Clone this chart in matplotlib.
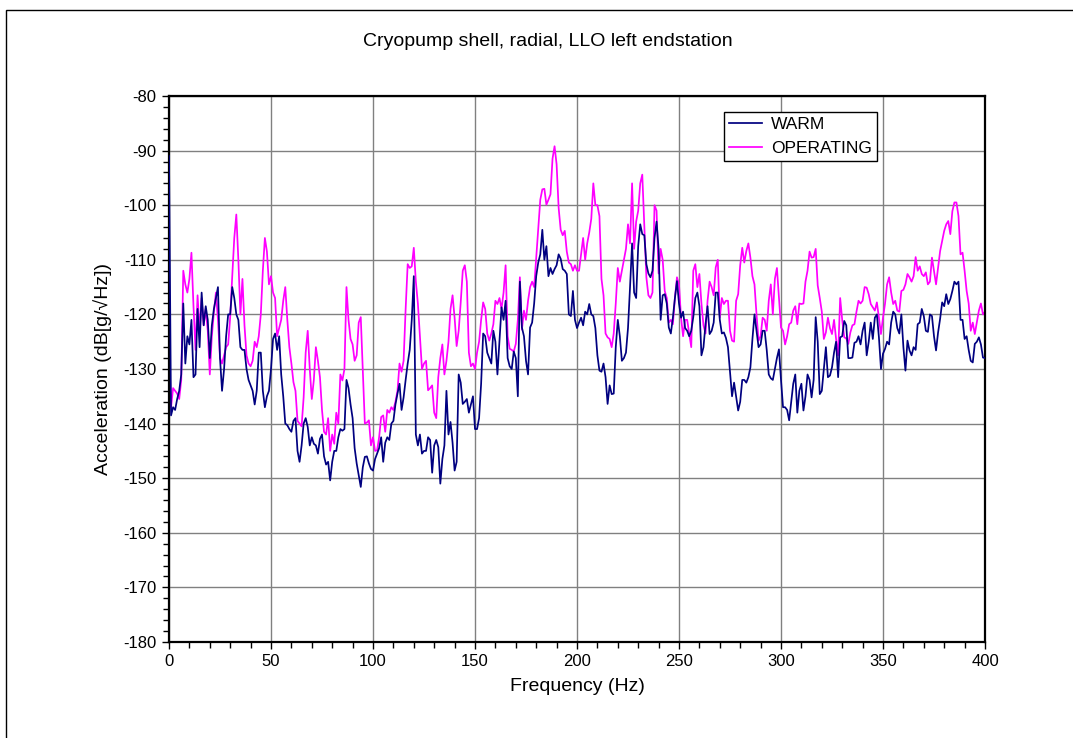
import numpy as np
import matplotlib
matplotlib.use("Agg")
import matplotlib.pyplot as plt
from matplotlib.patches import Rectangle
from matplotlib.ticker import MultipleLocator

plt.rcParams['font.family'] = ['Liberation Sans', 'DejaVu Sans']
plt.rcParams['axes.unicode_minus'] = False

# acceleration spectra, 1 Hz bins from 0 to 400 Hz, dB[g/sqrt(Hz)]
warm = [
    -91, -138.5, -137, -137.5, -135.5, -134, -131, -118, -129, -124,
    -125.5, -121, -131.5, -131, -119, -126, -116, -122, -118.5, -121,
    -128, -122, -119, -117, -115, -128, -134, -130, -124, -120,
    -120, -115, -117, -120, -121, -126, -126.5, -126.5, -130, -132,
    -133, -134, -136.5, -134, -127, -127, -134, -137, -135, -134,
    -130, -124.5, -123.5, -126.5, -124, -131, -135, -140, -140.3, -141,
    -141.5, -139.5, -139, -145, -147, -144, -140, -139, -140.6, -144,
    -142.5, -143.7, -144, -145.5, -142.8, -142, -146, -147.5, -147, -150.4,
    -147, -145, -145, -142.5, -141, -141.3, -141, -132, -133.5, -136.5,
    -139, -144.5, -147.3, -149.5, -151.6, -148, -146.1, -146, -147.3, -148.3,
    -148.6, -146.5, -145.5, -144.5, -142.5, -147, -143.5, -142.5, -143, -140,
    -139.5, -136.5, -134.5, -132.7, -137.5, -135.2, -132, -129, -126.5, -121,
    -113, -142, -144, -142, -145.5, -145, -145, -142.5, -143, -149,
    -144, -143, -144.3, -151, -146.5, -144, -134, -142, -139.7, -143.5,
    -148.6, -147, -131, -132.5, -136.4, -136, -135.5, -138, -136.5, -135,
    -141, -141, -139, -132.7, -123.5, -124, -127, -128, -129, -123,
    -125, -131, -125, -118.7, -121, -117.5, -128, -129.5, -130, -126.8,
    -128, -135, -114, -122.4, -124, -128.5, -131, -122.4, -121.5, -118,
    -113, -110.5, -109, -104.5, -110, -107.5, -113, -111.5, -112.6, -111.7,
    -111, -109, -109.8, -111.7, -112, -112.6, -120, -120.3, -115.7, -121,
    -122.5, -121.5, -120.6, -122, -119.5, -120, -118.1, -120, -120.3, -122.5,
    -127.5, -130.3, -130.5, -129, -131.5, -136.4, -133, -134.6, -134.5, -126,
    -121, -124, -128.5, -128, -127, -122.5, -115, -107, -116, -117,
    -107.5, -103.5, -105.3, -105.5, -110.8, -112.5, -113.2, -112, -106, -103,
    -108, -121, -116.5, -116.3, -118, -122.4, -123.5, -120.6, -117, -113.9,
    -118, -120.6, -119.5, -122.5, -123, -124, -123, -120.5, -117, -116,
    -118.5, -127.5, -126, -121.8, -118.5, -123.6, -123, -121.5, -116, -116,
    -121, -123.5, -123.3, -124.3, -126, -130.5, -135, -132.5, -135, -137.6,
    -136, -132, -132, -132.5, -131.5, -129.7, -124.5, -120, -123, -126,
    -125.5, -123, -123, -126.5, -131, -131.7, -132, -130, -128, -126.4,
    -132, -137, -137, -137.5, -139.4, -136, -132.7, -131, -138, -134,
    -132.7, -137.6, -135, -131, -132, -135.2, -132, -120.5, -125, -134.6,
    -134, -130, -126, -131.5, -131.2, -129.7, -127, -125, -131.5, -124.2,
    -124, -121.2, -122, -128, -128, -127.9, -125.2, -125, -124, -125.5,
    -123, -121.5, -127.5, -125, -121.5, -124.5, -120.6, -120, -124.2, -130,
    -127.2, -126.3, -125, -125.5, -121.5, -119.5, -120, -122.5, -123.5, -120,
    -126, -130.3, -124.8, -126.6, -127.5, -126, -126.5, -121.8, -121.5, -119,
    -120.3, -123, -123.2, -120, -120.3, -124, -126.6, -123.3, -120.8, -117.8,
    -118.5, -116.3, -118.1, -117.2, -115.7, -114, -114.5, -114, -121, -121,
    -124.5, -124, -126.5, -128.5, -128.8, -125.4, -125, -124.2, -125.5, -127.9,
    -128,
]

operating = [
    -126, -137, -133.5, -134, -134.5, -135.5, -132, -112, -114.5, -116,
    -113.5, -108.7, -118.5, -126.5, -116.5, -123, -117, -122, -119, -123,
    -131, -124, -119.6, -116, -121, -128, -129, -127.5, -126, -125.5,
    -120.5, -113, -106, -101.7, -110, -120, -113.5, -122, -127.5, -129,
    -129.5, -128.5, -125, -126, -124, -120, -112, -106, -108.5, -114.5,
    -113, -116, -117, -124, -122.5, -121, -117.5, -115, -121, -126,
    -129, -132.4, -134, -139.5, -140, -140.5, -135.2, -127, -123, -130,
    -135.5, -132, -126, -128.5, -131.5, -137.5, -141.5, -142, -139, -145,
    -142, -143.7, -138, -140, -131, -132.1, -130, -115, -121, -124.5,
    -125.5, -128.5, -127.5, -121.5, -120.5, -130, -140, -139.8, -139.4, -144,
    -142.5, -145, -144.9, -142.5, -138.8, -138.5, -141.5, -137.5, -138, -137,
    -137.5, -136, -134, -129, -130.5, -128.5, -119, -110.8, -111.5, -111.2,
    -107.8, -114, -118, -124, -130, -129, -128.5, -133.9, -133.5, -133,
    -138, -139, -131.5, -128, -125.5, -131, -128.5, -125, -119, -116.5,
    -120.6, -125.8, -123, -117.8, -112, -111, -114, -127, -129.5, -129,
    -130, -127, -125, -121, -117.8, -119, -123.5, -124.8, -123.5, -121.8,
    -117.5, -118.1, -117, -119, -116, -111, -124, -126.3, -126.5, -126.8,
    -125.4, -121, -113.2, -122.8, -119.3, -121, -117.5, -115, -114, -115,
    -109.6, -104, -99, -97.1, -97, -99.9, -99, -98, -91.5, -89.2,
    -92.5, -100.5, -104.5, -105.5, -104.7, -108.5, -110.5, -110.8, -112, -111,
    -112, -112, -109, -106, -110, -107, -105, -102.5, -96, -100,
    -100, -102, -113.5, -116.5, -123.5, -124.2, -124.5, -126, -123.5, -118,
    -111.5, -114, -112, -110, -108, -103.5, -107, -96, -108, -103,
    -101, -96, -94.4, -104, -113.2, -116.5, -117, -116, -100, -101,
    -112.5, -108, -110, -115.7, -117, -121.5, -121, -121.8, -117, -113.2,
    -114.5, -120.6, -124, -121, -121, -123.5, -126, -112, -110.8, -115,
    -112.6, -118, -122, -123.5, -117.5, -114, -115, -116.5, -111.4, -110,
    -120.6, -117, -118.1, -117.5, -117.5, -123, -124.8, -125, -117.5, -116.3,
    -111, -107.8, -110.5, -108.4, -107, -109.6, -113, -114.5, -120, -124.8,
    -124, -120.6, -121, -123, -117.5, -114.5, -120, -113.5, -111.5, -117,
    -122.4, -123, -125.5, -124, -121.8, -121.5, -119.3, -118.5, -121.8, -118,
    -118.1, -118, -114, -112, -108.5, -109.6, -109.5, -108, -114.7, -117,
    -119.5, -124.5, -123.3, -120.6, -122.5, -123.6, -121, -124.5, -127.5, -117,
    -121, -124.2, -124.4, -125.4, -123.3, -122, -121.8, -119.5, -117.5, -118,
    -117.5, -115, -115.1, -116.3, -118.1, -118.7, -119.3, -117.8, -120.6, -123.6,
    -120.6, -118, -114.5, -113.2, -116, -118.1, -117.5, -119.3, -119.5, -115.7,
    -115.5, -114.5, -112.6, -113.2, -114, -113, -109.5, -112, -111.2, -112.6,
    -113, -112.3, -114.5, -114, -109.6, -112, -114.5, -111.5, -108.4, -106.5,
    -104.7, -103.5, -102.9, -105.3, -101.1, -99.5, -99.5, -102, -109, -108.7,
    -112, -115.7, -118, -123, -121.5, -123.6, -121.5, -119.3, -118, -120,
    -119.5,
]

freq = np.arange(len(warm))
freq_op = np.arange(len(operating))

fig = plt.figure(figsize=(10.73, 7.38), dpi=100)

# chart area frame
fig.patches.append(Rectangle((5.5 / 1073, -0.1), 1.2, 1.1 - 10.5 / 738,
                             transform=fig.transFigure, fill=False,
                             edgecolor='black', linewidth=1.0))

ax = fig.add_axes([169 / 1073, 1 - 642 / 738, 816 / 1073, 546 / 738])

ax.plot(freq, warm, color='#000080', linewidth=1.25, label='WARM', zorder=3)
ax.plot(freq_op, operating, color='#FF00FF', linewidth=1.25, label='OPERATING', zorder=2)

ax.set_xlim(0, 400)
ax.set_ylim(-180, -80)
ax.xaxis.set_major_locator(MultipleLocator(50))
ax.xaxis.set_minor_locator(MultipleLocator(10))
ax.yaxis.set_major_locator(MultipleLocator(10))
ax.yaxis.set_minor_locator(MultipleLocator(2))
ax.tick_params(which='both', direction='out', color='black', width=1.0)
ax.tick_params(which='major', length=5, labelsize=12, pad=4)
ax.tick_params(which='minor', length=4)

ax.grid(True, which='major', color='#808080', linewidth=1.0)
ax.set_axisbelow(True)
for side in ax.spines.values():
    side.set_linewidth(1.6)

ax.set_xlabel('Frequency (Hz)', fontsize=14, labelpad=6)
ax.set_ylabel('Acceleration (dB[g/√Hz])', fontsize=14, labelpad=8)

fig.text(548 / 1073, 1 - 42 / 738, 'Cryopump shell, radial, LLO left endstation',
         ha='center', va='center', fontsize=14)

leg = ax.legend(loc='upper left', bbox_to_anchor=(0.680, 0.971), fontsize=12.5,
                frameon=True, fancybox=False, framealpha=1, edgecolor='black',
                borderpad=0.3, labelspacing=0.5, handlelength=1.9,
                handletextpad=0.5, borderaxespad=0)
leg.get_frame().set_linewidth(1.0)

fig.savefig('out.png', dpi=100)
